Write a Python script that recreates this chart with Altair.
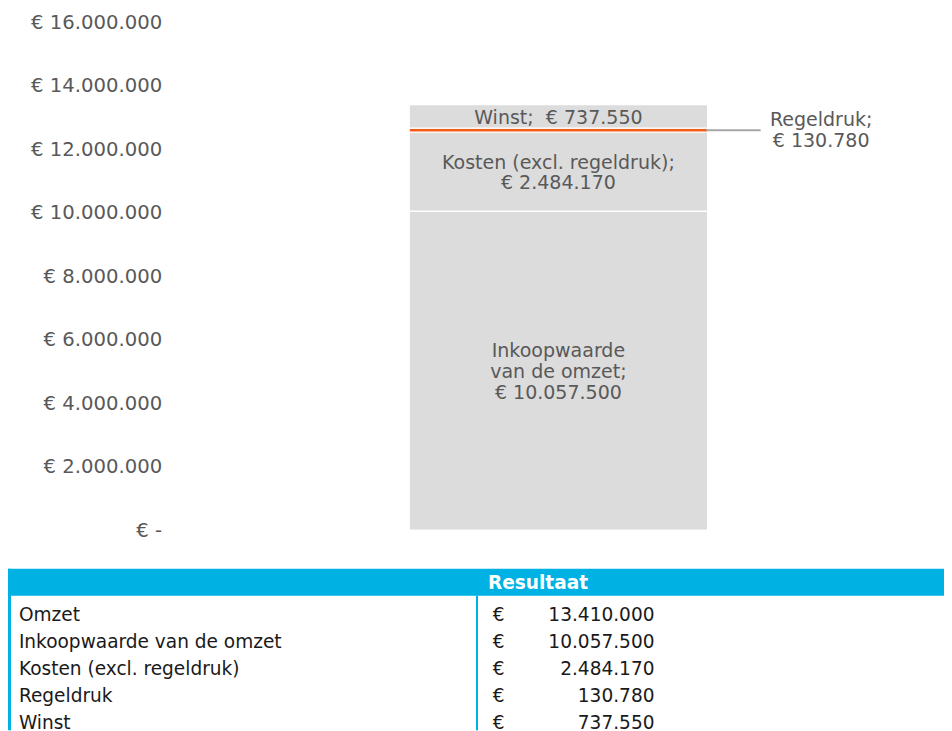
import altair as alt
import pandas as pd

# ---------------- data ----------------
segments = ["Inkoopwaarde van de omzet", "Kosten (excl. regeldruk)", "Regeldruk", "Winst"]
amounts = [10057500, 2484170, 130780, 737550]
segment_labels = [
    "Inkoopwaarde\nvan de omzet;\n € 10.057.500",
    "Kosten (excl. regeldruk);\n€ 2.484.170",
    "Regeldruk;\n€ 130.780",
    "Winst;\u00a0 € 737.550",
]
segment_colors = ["#DCDCDC", "#DCDCDC", "#F25C19", "#DCDCDC"]
label_placement = ["inside", "inside", "outside", "inside"]

tick_values = [0, 2000000, 4000000, 6000000, 8000000, 10000000, 12000000, 14000000, 16000000]
tick_labels = ["€ -\u00a0\u00a0\u00a0", "€ 2.000.000", "€ 4.000.000", "€ 6.000.000", "€ 8.000.000",
               "€ 10.000.000", "€ 12.000.000", "€ 14.000.000", "€ 16.000.000"]

table_header = "Resultaat"
table_items = ["Omzet", "Inkoopwaarde van de omzet", "Kosten (excl. regeldruk)", "Regeldruk", "Winst"]
table_amounts = [13410000, 10057500, 2484170, 130780, 737550]

# ---------------- styling ----------------
FONT = "DejaVu Sans"
GREY_TEXT = "#595959"
BLUE = "#00B2E3"
W = 944
TOP_H = 512
TABLE_ROWS_VISIBLE = 5.6
TABLE_BORDER_END = 6
LINE_H = 21

bar_df = pd.DataFrame({
    "segment": segments,
    "amount": amounts,
    "label": segment_labels,
    "placement": label_placement,
    "lines": [s.count("\n") + 1 for s in segment_labels],
    "order": list(range(len(segments))),
    "idx": [0] * len(segments),
})

label_expr = "''"
for v, t in zip(reversed(tick_values), reversed(tick_labels)):
    label_expr = f"datum.value == {v} ? '{t}' : ({label_expr})"

base = alt.Chart(bar_df).transform_stack(
    stack="amount", groupby=["idx"], as_=["y0", "y1"],
    sort=[alt.SortField("order", order="ascending")],
).transform_calculate(mid="(datum.y0 + datum.y1) / 2")

xscale = alt.Scale(domain=[-1.112, 0.776], nice=False, zero=False)
yscale = alt.Scale(domain=[0, 16000000], nice=False, zero=True)
y_axis = alt.Axis(
    values=tick_values, labelExpr=label_expr, title=None, domain=False, ticks=False,
    tickSize=0, grid=False, labelPadding=0, offset=-155, labelFont=FONT,
    labelFontSize=19.8, labelColor=GREY_TEXT, labelFlush=False, labelOverlap=False,
)

bars = base.mark_bar(orient="vertical", size=301, stroke="white", strokeWidth=1.3).encode(
    x=alt.X("idx:Q", scale=xscale, axis=None),
    y=alt.Y("y0:Q", scale=yscale, axis=y_axis),
    y2="y1:Q",
    color=alt.Color("segment:N", scale=alt.Scale(domain=segments, range=segment_colors), legend=None),
)

leader = base.transform_filter("datum.placement == 'outside'").mark_rule(
    xOffset=149, x2Offset=204, color="#A6A6A6", strokeWidth=2
).encode(
    x=alt.X("idx:Q", scale=xscale, axis=None),
    x2="idx:Q",
    y=alt.Y("mid:Q", scale=yscale, axis=y_axis),
)

label_layers = []
for n in sorted(set(bar_df["lines"])):
    shift = -(n - 1) / 2 * LINE_H
    for placement, dx, extra in [("inside", 0, 1.5), ("outside", 265, 0.5)]:
        label_layers.append(
            base.transform_filter(
                f"datum.placement == '{placement}' && datum.lines == {n}"
            ).mark_text(
                lineBreak="\n", font=FONT, fontSize=19.2, color=GREY_TEXT,
                lineHeight=LINE_H, dx=dx, dy=shift + extra,
            ).encode(
                x=alt.X("idx:Q", scale=xscale, axis=None),
                y=alt.Y("mid:Q", scale=yscale, axis=y_axis),
                text="label:N",
            )
        )

top = alt.layer(bars, leader, *label_layers).properties(width=W, height=TOP_H)

# ---------------- table ----------------
header_df = pd.DataFrame({"top": [0], "bottom": [1], "mid": [0.5], "title": [table_header]})
table_df = pd.DataFrame({
    "item": table_items,
    "amount_text": [f"{a:,}".replace(",", ".") for a in table_amounts],
    "row": list(range(1, len(table_items) + 1)),
})
table_base = alt.Chart(table_df).transform_calculate(center="datum.row + 0.5")
tscale = alt.Scale(domain=[0, TABLE_ROWS_VISIBLE], reverse=True, nice=False, zero=False)

header_rect = alt.Chart(header_df).mark_rect(color=BLUE).encode(
    x=alt.value(0), x2=alt.value(W),
    y=alt.Y("top:Q", scale=tscale, axis=None), y2="bottom:Q",
)
header_text = alt.Chart(header_df).mark_text(
    align="left", font=FONT, fontSize=18.7, fontWeight="bold", color="white", dy=1
).encode(x=alt.value(484), y=alt.Y("mid:Q", scale=tscale, axis=None), text="title:N")

left_border = alt.Chart(header_df).mark_rule(color=BLUE, strokeWidth=3).encode(
    x=alt.value(1.5), y=alt.Y("top:Q", scale=tscale, axis=None), y2=alt.datum(TABLE_BORDER_END),
)
col_divider = alt.Chart(header_df).mark_rule(color=BLUE, strokeWidth=2).encode(
    x=alt.value(473), y=alt.Y("bottom:Q", scale=tscale, axis=None), y2=alt.datum(TABLE_BORDER_END),
)

item_text = table_base.mark_text(align="left", font=FONT, fontSize=18.7, color="#1A1A1A", dy=6).encode(
    x=alt.value(11), y=alt.Y("center:Q", scale=tscale, axis=None), text="item:N")
euro_text = table_base.mark_text(align="left", font=FONT, fontSize=18.7, color="#1A1A1A", dy=6).encode(
    x=alt.value(489), y=alt.Y("center:Q", scale=tscale, axis=None), text=alt.value("€"))
value_text = table_base.mark_text(align="right", font=FONT, fontSize=18.7, color="#1A1A1A", dy=6).encode(
    x=alt.value(652), y=alt.Y("center:Q", scale=tscale, axis=None), text="amount_text:N")

table = alt.layer(header_rect, left_border, col_divider, header_text, item_text, euro_text, value_text).properties(
    width=W, height=int(round(TABLE_ROWS_VISIBLE * 27.2))
)

chart = alt.vconcat(top, table, spacing=27).properties(
    padding={"left": 0, "right": 0, "top": 1.5, "bottom": 0}
).configure_view(stroke=None)

chart.save("out.html", embed_options={"renderer": "svg", "actions": False})
